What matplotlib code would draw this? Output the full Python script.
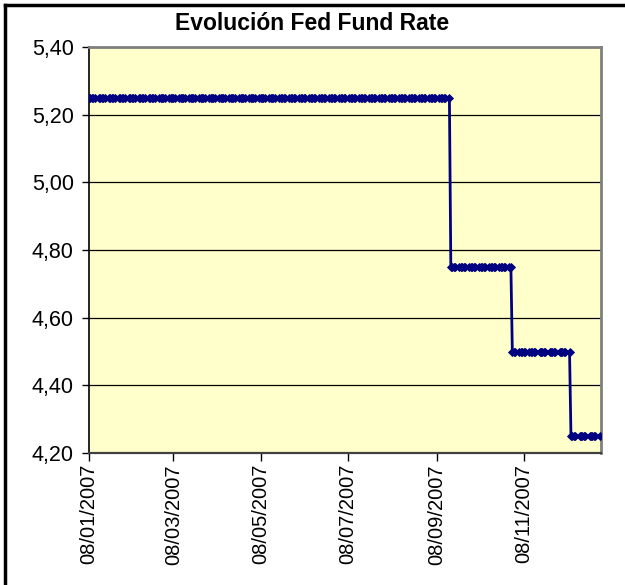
import matplotlib
matplotlib.use("Agg")
import matplotlib.pyplot as plt
import matplotlib.dates as mdates
from matplotlib.lines import Line2D
from matplotlib.ticker import FixedLocator, FuncFormatter
import pandas as pd

# Data: step levels of the Fed Fund Rate and the dates they start
change_dates = ["2007-01-08", "2007-09-18", "2007-10-31", "2007-12-11"]
rates = [5.25, 4.75, 4.50, 4.25]
last_date = "2007-12-31"
title = "Evolución Fed Fund Rate"
x_tick_dates = ["2007-01-08", "2007-03-08", "2007-05-08", "2007-07-08", "2007-09-08", "2007-11-08"]
y_ticks = [4.20, 4.40, 4.60, 4.80, 5.00, 5.20, 5.40]

# Build the business-day series (value held constant between change dates)
days = pd.bdate_range(change_dates[0], last_date)
levels = pd.Series(rates, index=pd.to_datetime(change_dates)).reindex(days, method="ffill")

plt.rcParams["font.family"] = ["Liberation Sans", "DejaVu Sans"]

W, H = 625, 585
fig = plt.figure(figsize=(W / 100, H / 100), dpi=100)
fig.patch.set_facecolor("white")

left, right, top, bottom = 89, 601, 47, 453
ax = fig.add_axes([left / W, 1 - bottom / H, (right - left) / W, (bottom - top) / H])
ax.set_facecolor("#FFFFCC")

ax.plot(levels.index, levels.values, color="#000080", lw=2.0,
        marker="D", markersize=3.6, markeredgewidth=0.6, zorder=3)

ax.set_ylim(4.20, 5.40)
ax.set_xlim(pd.Timestamp(change_dates[0]), pd.Timestamp("2008-01-01"))
ax.yaxis.set_major_locator(FixedLocator(y_ticks))
ax.yaxis.set_major_formatter(FuncFormatter(lambda v, p: f"{v:.2f}".replace(".", ",")))
ax.xaxis.set_major_locator(FixedLocator([mdates.date2num(pd.Timestamp(d)) for d in x_tick_dates]))
ax.xaxis.set_major_formatter(FuncFormatter(lambda v, p: mdates.num2date(v).strftime("%d/%m/%Y")))

ax.grid(axis="y", color="black", lw=0.9)
ax.set_axisbelow(True)
ax.tick_params(axis="y", direction="out", length=5, width=1, labelsize=15.5, pad=6, colors="black")
ax.tick_params(axis="x", direction="out", length=6, width=1, labelsize=14.5, pad=2,
               labelrotation=90, colors="black")

for s in ["top", "right"]:
    ax.spines[s].set_color("#808080")
    ax.spines[s].set_linewidth(2)
ax.spines["left"].set_color("black")
ax.spines["left"].set_linewidth(1.2)
ax.spines["bottom"].set_color("#404040")
ax.spines["bottom"].set_linewidth(1.6)

fig.text(0.5, 1 - 24 / H, title, ha="center", va="center", fontsize=16.5, fontweight="bold")

# Outer chart frame (top and left edges visible)
fig.add_artist(Line2D([5 / W, 1], [1 - 5 / H, 1 - 5 / H], transform=fig.transFigure, color="black", lw=2.5))
fig.add_artist(Line2D([5 / W, 5 / W], [0, 1 - 5 / H], transform=fig.transFigure, color="black", lw=2.5))

fig.savefig("out.png", dpi=100)
